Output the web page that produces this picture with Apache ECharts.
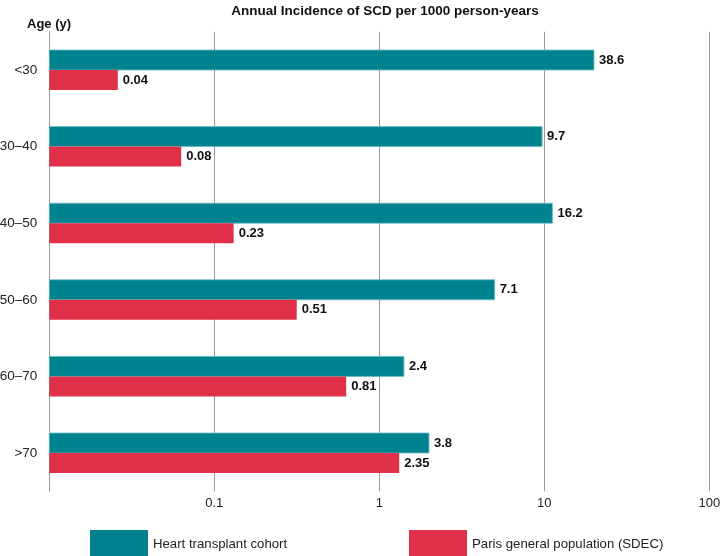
<!DOCTYPE html>
<html>
<head>
<meta charset="utf-8">
<script src="https://cdn.jsdelivr.net/npm/echarts@6/dist/echarts.min.js"></script>
<style>
html,body{margin:0;padding:0;background:#fff;}
#main{width:721px;height:556px;}
</style>
</head>
<body>
<div id="main"></div>
<script>
// Age groups (top to bottom)
const categories = ['<30', '30\u201340', '40\u201350', '50\u201360', '60\u201370', '>70'];
// Value labels printed in the chart
const heartLabels = ['38.6', '9.7', '16.2', '7.1', '2.4', '3.8'];
const parisLabels = ['0.04', '0.08', '0.23', '0.51', '0.81', '2.35'];
// Bar lengths as drawn on the log axis
const heartValues = [20.0, 9.7, 11.2, 5.0, 1.41, 2.0];
const parisValues = [0.026, 0.063, 0.131, 0.316, 0.63, 1.32];
// X axis ticks
const xTicks = [0.1, 1, 10, 100];
const xMin = 0.01, xMax = 100;
const seriesNames = ['Heart transplant cohort', 'Paris general population (SDEC)'];

const FONT = '"Liberation Sans", Arial, Helvetica, sans-serif';
const TEAL = '#00838f';
const RED = '#e0304a';
const BAR_H = 20;

function makeSeries(name, values, labels, color, border, slot) {
  return {
    name: name, type: 'custom',
    itemStyle: {color: color},
    encode: {x: 1, y: 0},
    data: values.map((v, i) => [i, v]),
    renderItem: function (params, api) {
      const cat = api.value(0), v = api.value(1);
      const s = api.coord([xMin, cat]);
      const e = api.coord([v, cat]);
      const y0 = s[1] + (slot === 0 ? -BAR_H : 0);
      const children = [{
        type: 'rect',
        shape: {x: s[0], y: y0, width: e[0] - s[0], height: BAR_H},
        style: {fill: color, stroke: border, lineWidth: border ? 0.8 : 0}
      }, {
        type: 'text',
        x: e[0] + 5, y: y0 + BAR_H / 2,
        style: {text: labels[params.dataIndex], fill: '#111',
          font: 'bold 13px ' + FONT, verticalAlign: 'middle', align: 'left'}
      }];
      return {type: 'group', children: children};
    }
  };
}

const chart = echarts.init(document.getElementById('main'), null, {renderer: 'canvas'});
chart.setOption({
  animation: false,
  backgroundColor: '#fff',
  title: [
    {text: 'Annual Incidence of SCD per 1000 person-years', left: 385, top: 4, padding: 0, textAlign: 'center',
     textStyle: {fontFamily: FONT, fontSize: 13.5, fontWeight: 'bold', color: '#111'}},
    {text: 'Age (y)', left: 27, top: 18, padding: 0,
     textStyle: {fontFamily: FONT, fontSize: 13, fontWeight: 'bold', color: '#111'}}
  ],
  legend: [
    {data: [seriesNames[0]], left: 90, top: 530, padding: 0, itemWidth: 58, itemHeight: 28, icon: 'rect',
     textStyle: {fontFamily: FONT, fontSize: 13.2, color: '#222'}},
    {data: [seriesNames[1]], left: 409, top: 530, padding: 0, itemWidth: 58, itemHeight: 28, icon: 'rect',
     textStyle: {fontFamily: FONT, fontSize: 13.2, color: '#222'}}
  ],
  grid: {left: 49.3, right: 11.7, top: 31.7, bottom: 64.7, containLabel: false, outerBoundsMode: 'none'},
  xAxis: {
    type: 'log', logBase: 10, min: xMin, max: xMax,
    axisLine: {show: false}, axisTick: {show: false},
    splitLine: {show: true, lineStyle: {color: '#9a9a9a', width: 1}},
    axisLabel: {
      margin: 6, fontFamily: FONT, fontSize: 13, color: '#222',
      formatter: function (v) {
        for (const t of xTicks) { if (Math.abs(v - t) / t < 1e-6) return String(t); }
        return '';
      }
    }
  },
  yAxis: {
    type: 'category', data: categories, inverse: true,
    axisLine: {show: true, lineStyle: {color: '#9a9a9a', width: 1}},
    axisTick: {show: false},
    axisLabel: {margin: 12, fontFamily: FONT, fontSize: 13.5, color: '#222'}
  },
  series: [
    makeSeries(seriesNames[0], heartValues, heartLabels, TEAL, '#6fbcc4', 0),
    makeSeries(seriesNames[1], parisValues, parisLabels, RED, null, 1)
  ]
});
</script>
</body>
</html>
